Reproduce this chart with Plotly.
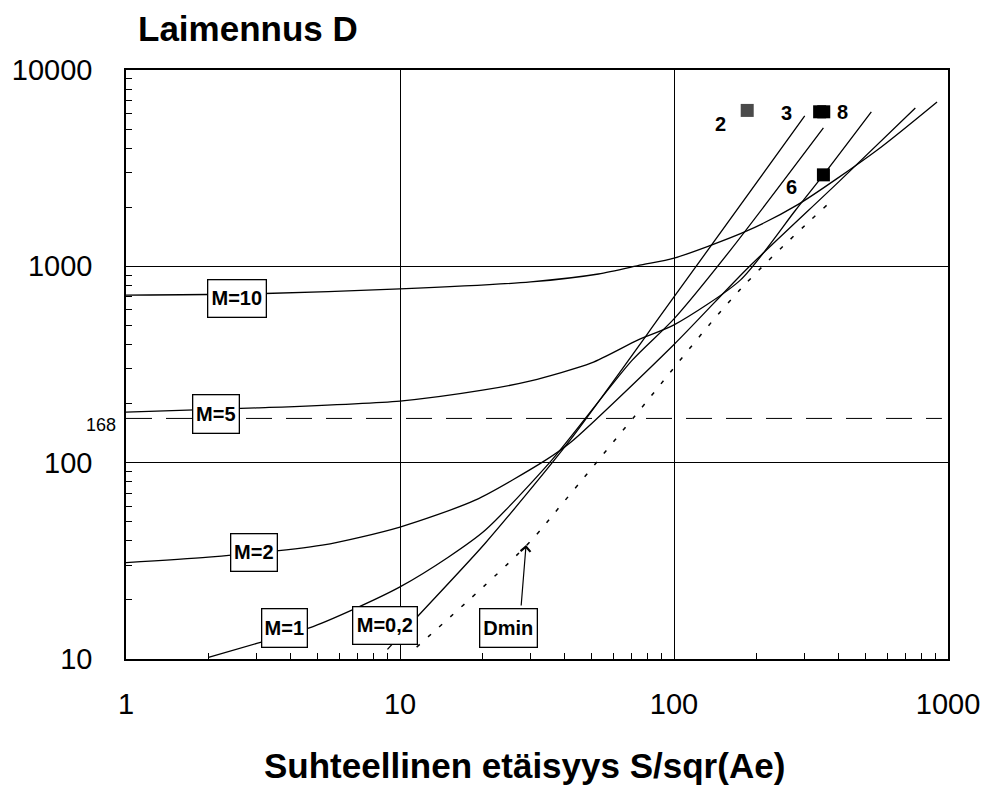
import plotly.graph_objects as go

# ---------------- data ----------------
m10_x = [1, 3, 10, 30, 53, 76, 100, 181, 282, 552, 912]
m10_y = [714, 725, 767, 833, 914, 1016, 1100, 1497, 2056, 3917, 6880]

m5_x = [1, 3, 10, 20, 30, 50, 74, 100, 175, 278, 351, 525]
m5_y = [181, 190, 206, 234, 261, 322, 422, 503, 853, 1936, 2924, 6125]

m2_x = [1, 2, 5.2, 10, 18.9, 34, 42, 100, 186, 400, 760]
m2_y = [31, 33, 38, 47, 64.6, 103, 127, 400, 981, 2700, 6410]

m1_x = [2, 3, 4.67, 6.7, 10, 15, 20.5, 35.8, 70, 100, 161, 351]
m1_y = [10.2, 12, 14.4, 17.8, 23.3, 33, 45.4, 103, 330, 540, 1213, 5070]

m02_x = [9, 11.7, 20.5, 41, 100, 300]
m02_y = [11.2, 16.7, 39, 126, 698, 5835]

dmin_x = [11.5, 29, 38.8, 71, 174, 372]
dmin_y = [11.5, 38, 61, 169, 759, 2128]

ref_level = 168
ref_x = [1, 950]

pt_labels = ["2", "3", "8", "6"]
pt_x = [185, 340, 352, 351]
pt_y = [6225, 6125, 6125, 2924]
pt_colors = ["#4a4a4a", "black", "black", "black"]

x_ticks = [1, 10, 100, 1000]
y_ticks = [10, 100, 1000, 10000]

# ---------------- layout geometry ----------------
W, H = 992, 794
L, R, T, B = 126, 952, 70, 659
FONT = "Liberation Sans, Arial, Helvetica, sans-serif"


def px(xp):
    return (xp - L) / (R - L)


def py(yp):
    return (B - yp) / (B - T)


fig = go.Figure()

line_style = dict(color="black", width=1.3, shape="spline", smoothing=0.7)
for xs, ys, name in [(m10_x, m10_y, "M=10"), (m5_x, m5_y, "M=5"), (m2_x, m2_y, "M=2"),
                     (m1_x, m1_y, "M=1"), (m02_x, m02_y, "M=0,2")]:
    fig.add_trace(go.Scatter(x=xs, y=ys, mode="lines", line=line_style, name=name,
                             showlegend=False, hoverinfo="skip"))

fig.add_trace(go.Scatter(x=dmin_x, y=dmin_y, mode="lines",
                         line=dict(color="black", width=1.5, dash="4px,11px", shape="spline"),
                         showlegend=False, hoverinfo="skip"))

fig.add_trace(go.Scatter(x=ref_x, y=[ref_level] * len(ref_x), mode="lines",
                         line=dict(color="black", width=1, dash="26px,14px"),
                         showlegend=False, hoverinfo="skip"))

fig.add_trace(go.Scatter(x=pt_x, y=pt_y, mode="markers",
                         marker=dict(symbol="square", size=13, color=pt_colors,
                                     line=dict(width=0)),
                         showlegend=False, hoverinfo="skip"))

minor_vals = [m * 10 ** k for k in range(0, 4) for m in range(2, 10)]

axis_common = dict(
    type="log", showgrid=True, gridcolor="black", gridwidth=1,
    showline=True, linecolor="black", linewidth=1.5, mirror=True,
    ticks="inside", ticklen=6, tickcolor="black",
    tickfont=dict(family=FONT, size=29, color="black"),
    minor=dict(tickmode="array", tickvals=minor_vals, ticks="inside", ticklen=6,
               tickcolor="black", showgrid=False),
    zeroline=False,
)

fig.update_xaxes(range=[0, 3], tickmode="array", tickvals=x_ticks,
                 ticktext=[str(v) for v in x_ticks], ticklabelstandoff=18, **axis_common)
fig.update_yaxes(range=[1, 4], tickmode="array", tickvals=y_ticks,
                 ticktext=[str(v) for v in y_ticks], ticklabelstandoff=26, **axis_common)

annotations = []
annotations.append(dict(text="<b>Laimennus D</b>", x=px(136), y=py(29), xref="paper", yref="paper",
                        xanchor="left", yanchor="middle", showarrow=False,
                        font=dict(family=FONT, size=35, color="black")))
annotations.append(dict(text="<b>Suhteellinen etäisyys S/sqr(Ae)</b>", x=px(526), y=py(765),
                        xref="paper", yref="paper", xanchor="center", yanchor="middle",
                        showarrow=False, font=dict(family=FONT, size=35, color="black")))
annotations.append(dict(text=str(ref_level), x=px(118), y=py(425), xref="paper", yref="paper",
                        xanchor="right", yanchor="middle", showarrow=False,
                        font=dict(family=FONT, size=18, color="black")))

boxes = [("M=10", 238, 298.5, 60, 39), ("M=5", 216, 414, 48, 40), ("M=2", 255, 552, 48, 39),
         ("M=1", 285.5, 628, 47, 40), ("M=0,2", 386, 625.5, 66, 39), ("Dmin", 510.5, 628, 59, 40)]
for txt, cx, cy, bw, bh in boxes:
    annotations.append(dict(text="<b>%s</b>" % txt, x=px(cx), y=py(cy), xref="paper", yref="paper",
                            xanchor="center", yanchor="middle", showarrow=False,
                            width=bw - 3, height=bh - 3, borderpad=0,
                            bgcolor="white", bordercolor="black", borderwidth=1.3,
                            font=dict(family=FONT, size=20, color="black")))

# arrow pointing at Dmin
annotations.append(dict(text="", x=px(528), y=py(545), xref="paper", yref="paper",
                        ax=-5, ay=62, showarrow=True, arrowhead=4, arrowsize=1.6,
                        arrowwidth=1.2, arrowcolor="black"))

lab_pos = {"2": (723, 124), "3": (790, 113), "8": (846, 112), "6": (795, 187)}
for lab in pt_labels:
    lx, ly = lab_pos[lab]
    annotations.append(dict(text="<b>%s</b>" % lab, x=px(lx), y=py(ly), xref="paper", yref="paper",
                            xanchor="center", yanchor="middle", showarrow=False,
                            font=dict(family=FONT, size=20, color="black")))

fig.update_layout(
    width=W, height=H,
    margin=dict(l=L, r=W - R, t=T, b=H - B),
    paper_bgcolor="white", plot_bgcolor="white",
    annotations=annotations,
    showlegend=False,
)

fig.write_html("out.html")
